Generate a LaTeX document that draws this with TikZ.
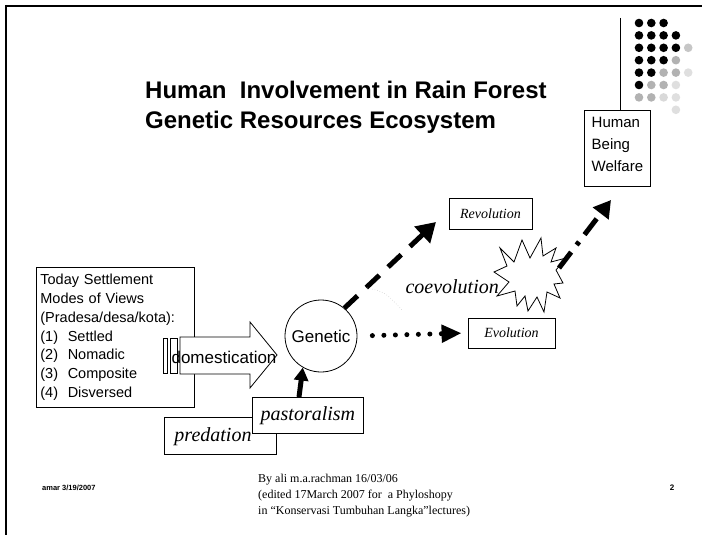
\documentclass[tikz,border=0pt]{standalone}
\usepackage{fontspec}
\newfontfamily\arialfont{Liberation Sans}
\newfontfamily\timesfont{Liberation Serif}
\usetikzlibrary{arrows.meta,calc}

\tikzset{
  box/.style={draw, line width=0.8pt, fill=white, inner sep=4pt},
  seriflabel/.style={font=\timesfont\itshape\fontsize{20}{22}\selectfont},
  smallscript/.style={font=\timesfont\itshape\fontsize{14}{16}\selectfont},
  bigdash/.style={line width=5pt, dash pattern=on 18pt off 12pt,
    -{Triangle[length=19pt,width=22pt]}},
  dotline/.style={line width=5pt, line cap=round, dash pattern=on 0pt off 11.5pt,
    -{Triangle[length=20pt,width=17pt]}},
  dashdotline/.style={line width=5pt, dash pattern=on 20pt off 9pt on 4pt off 9pt,
    -{Triangle[length=17pt,width=19pt]}},
  solidthick/.style={line width=5pt, -{Triangle[length=13pt,width=14pt]}},
}

\begin{document}
\begin{tikzpicture}[x=1pt, y=-1pt]
  \useasboundingbox (0,0) rectangle (702,535);
  \fill[white] (0,0) rectangle (702,535);

  % slide frame
  \draw[line width=1.5pt] (5,6) -- (702,6);
  \draw[line width=1.2pt] (6,5) -- (6,535);

  % decorative dot grid (top right)
  \foreach \c/\r/\col in {0/0/black,1/0/black,2/0/black,
      0/1/black,1/1/black,2/1/black,3/1/black,
      0/2/black,1/2/black,2/2/black,3/2/black,4/2/gray!45,
      0/3/black,1/3/black,2/3/black,3/3/gray!60,
      0/4/black,1/4/black,2/4/gray!60,3/4/gray!60,4/4/gray!25,
      0/5/black,1/5/gray!60,2/5/gray!60,3/5/gray!25,
      0/6/gray!60,1/6/gray!60,2/6/gray!30,3/6/gray!25,
      3/7/gray!25}
    \fill[\col] ({639+12.3*\c},{23+12.4*\r}) circle (4.3pt);

  % title
  \node[anchor=west, align=left, font=\arialfont\bfseries\fontsize{24}{30}\selectfont, inner sep=0pt]
    (title) at (145,107) {Human\ \ Involvement in Rain Forest\\Genetic Resources Ecosystem};

  % human being welfare
  \node[box, anchor=north west, minimum width=66pt, minimum height=76pt, align=left,
    font=\arialfont\fontsize{15}{22}\selectfont] (hbw) at (584,110)
    {Human\\Being\\Welfare\\[-14pt]\mbox{}};
  \draw[line width=0.8pt] (620,18) -- (hbw.north -| 620,0);

  % settlement modes
  \node[box, anchor=north west, text width=150pt, minimum height=140pt, align=left,
    font=\arialfont\fontsize{14.5}{18.8}\selectfont] (modes) at (36,267)
    {Today Settlement\\Modes of Views\\(Pradesa/desa/kota):\\(1)\ \ Settled\\(2)\ \ Nomadic\\(3)\ \ Composite\\(4)\ \ Disversed};

  % striped block arrow
  \draw[line width=0.8pt, fill=white] (163,338) rectangle (167,373);
  \draw[line width=0.8pt, fill=white] (170,338) rectangle (177,373);
  \draw[line width=0.8pt, fill=white] (180,337) -- (250,337) -- (250,322) -- (277,355)
    -- (250,388) -- (250,374) -- (180,374) -- cycle;
  \node[font=\arialfont\fontsize{17}{20}\selectfont, inner sep=0pt] (dom) at (224,357) {domestication};

  % genetic
  \node[circle, draw, line width=0.8pt, minimum size=72pt, inner sep=0pt,
    font=\arialfont\fontsize{17}{20}\selectfont] (gen) at (321,336) {Genetic};

  % predation / pastoralism
  \node[box, anchor=north west, minimum width=112pt, minimum height=37pt] (pred) at (164,417) {};
  \node[seriflabel, inner sep=0pt] at (213,437) {predation};
  \node[box, anchor=north west, minimum width=111pt, minimum height=36pt, seriflabel] (past) at (252,397)
    {pastoralism};
  \draw[solidthick] ([xshift=47pt]past.north west) -- (gen.240);

  % revolution / evolution
  \node[box, minimum width=83pt, minimum height=31pt, smallscript] (rev) at (490.5,213.5) {Revolution};
  \node[box, minimum width=87pt, minimum height=30pt, smallscript] (evo) at (511.5,333) {Evolution};

  \coordinate (revtip) at (436,222);
  \draw[bigdash] (gen.50) -- (revtip);
  \draw[dotline, shorten <=15pt, shorten >=6pt] (gen.east) -- (evo.west);

  % faint trace between the arrows
  \draw[gray!35, dotted, line width=0.6pt] (367,288) .. controls (385,292) .. (402,310);

  % coevolution burst
  \draw[line width=0.8pt, fill=white, line join=miter]
    (500,248) -- (514,262) -- (522,240) -- (530,258) -- (541,238) -- (543,256)
    -- (556,248) -- (551,262) -- (566,258) -- (556,270) -- (563,283) -- (554,284)
    -- (560,298) -- (547,292) -- (544,312) -- (537,297) -- (528,311) -- (525,296)
    -- (517,306) -- (515,291) -- (497,296) -- (509,282) -- (494,272) -- (507,266) -- cycle;
  \coordinate (burst) at (559,268);
  \node[seriflabel, anchor=east, inner sep=0pt] (coev) at (499,287) {coevolution};

  \coordinate (hbwtip) at (611,200);
  \draw[dashdotline] (burst) -- (hbwtip);

  % footer
  \node[anchor=west, font=\arialfont\bfseries\fontsize{7.5}{8}\selectfont, inner sep=0pt] (date) at (42,488) {amar 3/19/2007};
  \node[anchor=north west, align=left, font=\timesfont\fontsize{12}{16}\selectfont, inner sep=0pt] (credit) at (258,474)
    {By ali m.a.rachman 16/03/06\\(edited 17March 2007 for\ \ a Phyloshopy\\in “Konservasi Tumbuhan Langka”lectures)};
  \node[font=\arialfont\bfseries\fontsize{8}{9}\selectfont, inner sep=0pt] (page) at (672,488) {2};
\end{tikzpicture}
\end{document}
